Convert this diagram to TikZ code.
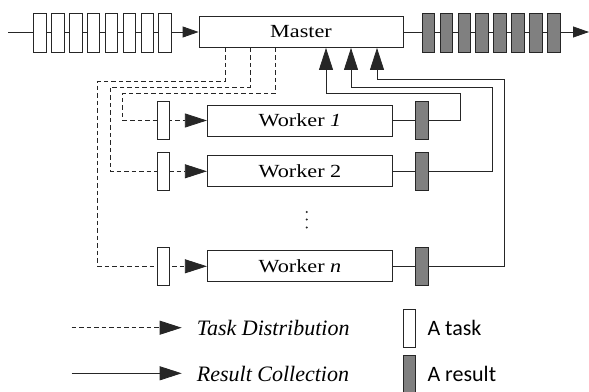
\documentclass[tikz,border=0pt]{standalone}
\usepackage{fontspec}
\setmainfont{Liberation Serif}
\newfontfamily\boxfont[FakeStretch=1.2]{Liberation Serif}
\newfontfamily\legfont{Carlito}
\usetikzlibrary{arrows.meta}
\tikzset{
  every node/.style={inner sep=0pt},
  unit/.style={draw=black!85, line width=0.8pt, fill=white, minimum height=31pt,
    font=\boxfont\fontsize{18.5}{21}\selectfont},
  tasknode/.style={draw=black!85, line width=0.8pt, fill=white, minimum width=12.4pt, minimum height=38pt},
  resnode/.style={tasknode, fill=black!50},
  distline/.style={draw=black!85, line width=0.8pt, dash pattern=on 4.5pt off 3pt},
  collline/.style={draw=black!85, line width=0.8pt},
  bigtip/.style={-{Triangle[length=22pt,width=14pt]}},
  smalltip/.style={-{Triangle[length=16pt,width=11pt]}},
  legtext/.style={anchor=base west, font=\itshape\fontsize{22}{26}\selectfont},
}
\begin{document}
\begin{tikzpicture}[x=1pt,y=-1pt]
\useasboundingbox (0,0) rectangle (589,391);
\node[unit, minimum width=204pt] (master) at (301,32) {Master};
\node[unit, minimum width=185.4pt] (w1) at (300,120.5) {Worker \textit{1}};
\node[unit, minimum width=185.4pt] (w2) at (300,171.3) {Worker 2};
\node[unit, minimum width=185.4pt] (wn) at (300,266.3) {Worker \textit{n}};
\foreach \y in {212,219.5,227.5}
  \fill[black!85] (306.7,\y) circle (1.1pt);

\coordinate (in) at (8,32);
\coordinate (out) at (589,32);
\draw[collline, smalltip] (in) -- (master.west);
\draw[collline, smalltip] (master.east) -- (out);
\foreach \i in {1,...,8} {
  \node[tasknode, minimum height=39pt] (t\i) at ({40+17.86*(\i-1)},32.5) {};
  \node[resnode, minimum height=39pt] (r\i) at ({428.3+17.93*(\i-1)},32.5) {};
}

\coordinate (d1) at (122.7,93.3);
\coordinate (d2) at (110,87.3);
\coordinate (dn) at (97.7,81);
\draw[distline, bigtip] ([xshift=-25.7pt]master.south) |- (d1) |- (w1.west);
\draw[distline, bigtip] ([xshift=-51pt]master.south) |- (d2) |- (w2.west);
\draw[distline, bigtip] ([xshift=-76pt]master.south) |- (dn) |- (wn.west);

\coordinate (c1) at (460.7,93.3);
\coordinate (c2) at (492.3,87.3);
\coordinate (cn) at (504.3,79);
\draw[collline, bigtip] (w1.east) -| (c1) -| ([xshift=25pt]master.south);
\draw[collline, bigtip] (w2.east) -| (c2) -| ([xshift=50pt]master.south);
\draw[collline, bigtip] (wn.east) -| (cn) -| ([xshift=76pt]master.south);

\foreach \w in {w1,w2,wn} {
  \node[tasknode] (t\w) at (163.3,0 |- \w) {};
  \node[resnode] (r\w) at (422,0 |- \w) {};
}

\coordinate (la) at (71.7,327.7);
\coordinate (lb) at (181.7,327.7);
\coordinate (lc) at (71.7,373.3);
\coordinate (ld) at (181.7,373.3);
\draw[distline, bigtip] (la) -- (lb);
\draw[collline, bigtip] (lc) -- (ld);
\node[legtext] (ltask) at (196.7,335) {Task Distribution};
\node[legtext] (lres) at (196.7,381.5) {Result Collection};
\node[tasknode] (ktask) at (409.5,328.3) {};
\node[resnode] (kres) at (409.5,374.7) {};
\node[anchor=base west, font=\legfont\fontsize{22}{26}\selectfont] (ktaskt) at (427.3,335) {A task};
\node[anchor=base west, font=\legfont\fontsize{22}{26}\selectfont] (krest) at (427.3,381.5) {A result};
\end{tikzpicture}
\end{document}
